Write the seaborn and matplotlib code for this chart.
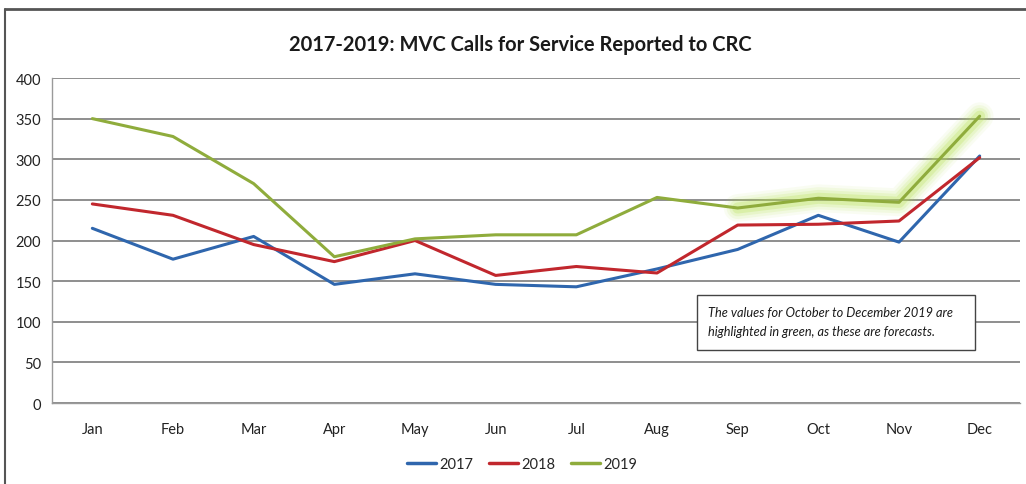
import matplotlib
matplotlib.use("Agg")
import matplotlib.pyplot as plt
from matplotlib.patches import Rectangle
from matplotlib.lines import Line2D
import seaborn as sns
import pandas as pd
import numpy as np

months = ["Jan", "Feb", "Mar", "Apr", "May", "Jun", "Jul", "Aug", "Sep", "Oct", "Nov", "Dec"]
calls_2017 = [215, 177, 205, 146, 159, 146, 143, 165, 189, 231, 198, 304]
calls_2018 = [245, 231, 195, 174, 200, 157, 168, 160, 219, 220, 224, 302]
calls_2019 = [350, 328, 270, 180, 202, 207, 207, 253, 240, 252, 247, 353]
years = ["2017", "2018", "2019"]
forecast_from = "Sep"

df = pd.DataFrame({
    "month": months * 3,
    "idx": list(range(12)) * 3,
    "calls": calls_2017 + calls_2018 + calls_2019,
    "year": sum([[y] * 12 for y in years], []),
})

sns.set_theme(style="white")
plt.rcParams["font.family"] = ["Lato", "DejaVu Sans"]

palette = {"2017": "#2f66ad", "2018": "#c1272d", "2019": "#8fac3c"}

fig = plt.figure(figsize=(10.26, 4.85), dpi=100)
ax = fig.add_axes([52 / 1026, 1 - 404 / 485, (1020 - 52) / 1026, (404 - 79) / 485])

# soft green glow along the forecast stretch of 2019
start = months.index(forecast_from)
fx = np.arange(start, 12)
fy = np.array(calls_2019[start:])
for lw, a in [(20, 0.07), (16, 0.1), (12, 0.15), (8, 0.25)]:
    ax.plot(fx, fy, color="#b4e04a", lw=lw, alpha=a, solid_capstyle="round",
            solid_joinstyle="round", zorder=2)

sns.lineplot(data=df, x="idx", y="calls", hue="year", palette=palette,
             linewidth=2.2, ax=ax, legend=False, zorder=3)

ax.set_xlim(-0.5, 11.5)
ax.set_ylim(0, 400)
ax.set_yticks(range(0, 401, 50))
ax.set_xticks(range(12))
ax.set_xticklabels(months)
ax.set_xticks(np.arange(-0.5, 12, 1), minor=True)
ax.tick_params(axis="x", which="major", length=0, pad=14, labelsize=10.5, colors="#222222")
ax.tick_params(axis="x", which="minor", length=5, width=1, color="#9a9a9a", direction="out")
ax.tick_params(axis="y", length=5, width=1, color="#9a9a9a", direction="out",
               labelsize=10.5, colors="#222222", pad=3)
ax.set_xlabel("")
ax.set_ylabel("")
ax.yaxis.grid(True, color="#707070", lw=1.1)
ax.set_axisbelow(True)
for s in ["top", "right"]:
    ax.spines[s].set_visible(False)
for s in ["left", "bottom"]:
    ax.spines[s].set_color("#9a9a9a")
    ax.spines[s].set_linewidth(1)

fig.text(520 / 1026, 1 - 45 / 485, "2017-2019: MVC Calls for Service Reported to CRC",
         ha="center", va="center", fontsize=14.5, fontweight="bold", color="#1a1a1a")

# note box
note = ("The values for October to December 2019 are\n"
        "highlighted in green, as these are forecasts.")
fig.patches.append(Rectangle((697 / 1026, 1 - 351 / 485), (975 - 697) / 1026, (351 - 296) / 485,
                             transform=fig.transFigure, fill=True, facecolor="white",
                             edgecolor="#444444", lw=1, zorder=5))
fig.text(708 / 1026, 1 - 323 / 485, note, ha="left", va="center", fontsize=9.2,
         style="italic", color="#1a1a1a", linespacing=1.7, zorder=6)

# legend
handles = [Line2D([], [], color=palette[y], lw=2.5) for y in years]
fig.legend(handles, years, loc="center", bbox_to_anchor=(522 / 1026, 1 - 465 / 485),
           ncol=3, frameon=False, fontsize=10.5, handlelength=2.0, handletextpad=0.2,
           columnspacing=1.1)

# outer chart border (top and left edges)
fig.add_artist(Line2D([5 / 1026, 5 / 1026], [0, 1 - 10 / 485], transform=fig.transFigure,
                      color="#555555", lw=1.5))
fig.add_artist(Line2D([5 / 1026, 1], [1 - 10 / 485, 1 - 10 / 485], transform=fig.transFigure,
                      color="#555555", lw=2))

fig.savefig("out.png", dpi=100)
